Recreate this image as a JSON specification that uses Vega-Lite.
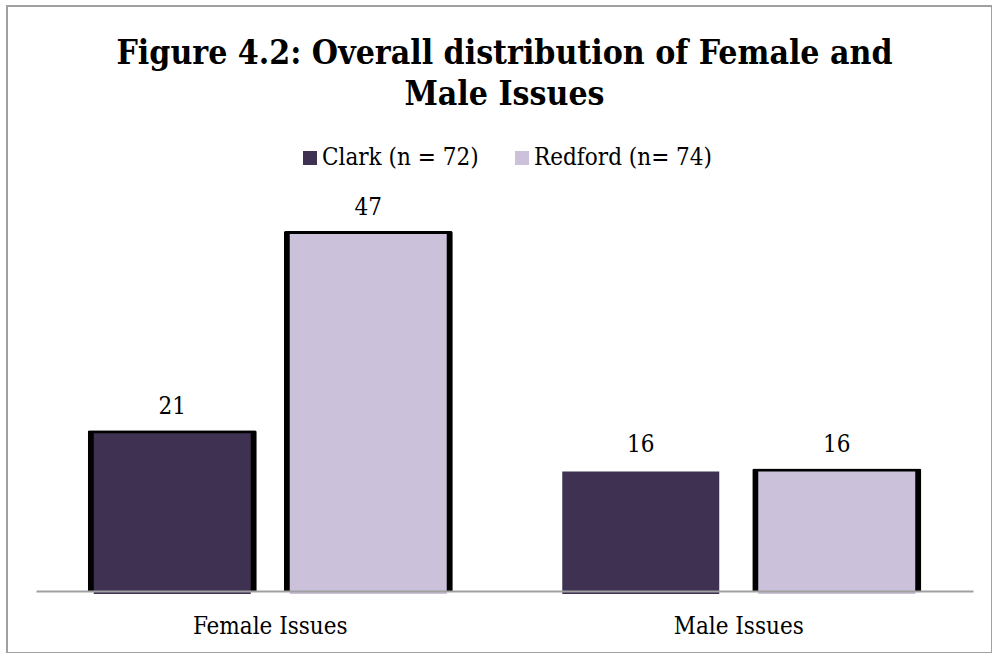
{
  "$schema": "https://vega.github.io/schema/vega-lite/v6.json",
  "autosize": {"type": "none"},
  "width": 985,
  "height": 647,
  "padding": {"left": 7, "top": 6, "right": 0, "bottom": 0},
  "background": "white",
  "title": {
    "text": ["Figure 4.2: Overall distribution of Female and", "Male Issues"],
    "font": "DejaVu Serif Condensed, DejaVu Serif",
    "fontSize": 33.5,
    "fontWeight": "bold",
    "color": "#000000",
    "anchor": "middle",
    "lineHeight": 41,
    "baseline": "alphabetic",
    "offset": -132,
    "dx": 5
  },
  "data": {
    "values": [
      {"group": "Female Issues", "series": "Clark (n = 72)", "value": 21},
      {"group": "Female Issues", "series": "Redford (n= 74)", "value": 47},
      {"group": "Male Issues", "series": "Clark (n = 72)", "value": 16},
      {"group": "Male Issues", "series": "Redford (n= 74)", "value": 16}
    ]
  },
  "encoding": {
    "x": {
      "field": "group", "type": "nominal", "sort": null,
      "scale": {"paddingInner": 0, "paddingOuter": 0, "range": [29, 966]},
      "axis": {
        "title": null, "labelAngle": 0, "ticks": false, "offset": -62, "zindex": 1,
        "domainColor": "#A0A0A0", "domainWidth": 2,
        "labelFont": "DejaVu Serif Condensed, DejaVu Serif", "labelFontSize": 24, "labelColor": "#000000",
        "labelPadding": 23
      }
    },
    "y": {
      "field": "value", "type": "quantitative",
      "scale": {"domain": [0, 50], "nice": false, "range": [585, 202]},
      "axis": null
    }
  },
  "layer": [
    {
      "encoding": {
        "xOffset": {
          "field": "series", "type": "nominal",
          "scale": {"paddingInner": 0.1378, "paddingOuter": 0.2639}
        }
      },
      "layer": [
        {
          "transform": [{"filter": "!(datum.group === 'Male Issues' && datum.series === 'Clark (n = 72)')"}],
          "mark": {"type": "bar", "color": "#000000", "cornerRadiusTopLeft": 2, "cornerRadiusTopRight": 2}
        },
        {
          "mark": {"type": "text", "baseline": "alphabetic", "dy": -16, "font": "DejaVu Serif Condensed, DejaVu Serif", "fontSize": 24, "color": "#000000"},
          "encoding": {"text": {"field": "value", "type": "quantitative"}}
        }
      ]
    },
    {
      "mark": {"type": "bar", "yOffset": 3},
      "encoding": {
        "xOffset": {
          "field": "series", "type": "nominal",
          "scale": {"paddingInner": 0.199, "paddingOuter": 0.2947}
        },
        "color": {
          "field": "series", "type": "nominal",
          "scale": {"range": ["#3F3151", "#CCC1DA"]},
          "legend": {
            "title": null, "orient": "none", "direction": "horizontal",
            "legendX": 291, "legendY": 140, "padding": 0,
            "symbolType": "square", "symbolSize": 196, "symbolStrokeWidth": 0,
            "labelFont": "DejaVu Serif Condensed, DejaVu Serif", "labelFontSize": 24, "labelColor": "#000000",
            "labelOffset": 0, "columnPadding": 31, "labelLimit": 400
          }
        }
      }
    }
  ],
  "resolve": {"scale": {"xOffset": "independent"}},
  "config": {"view": {"stroke": "#A0A0A0", "strokeWidth": 2}}
}
